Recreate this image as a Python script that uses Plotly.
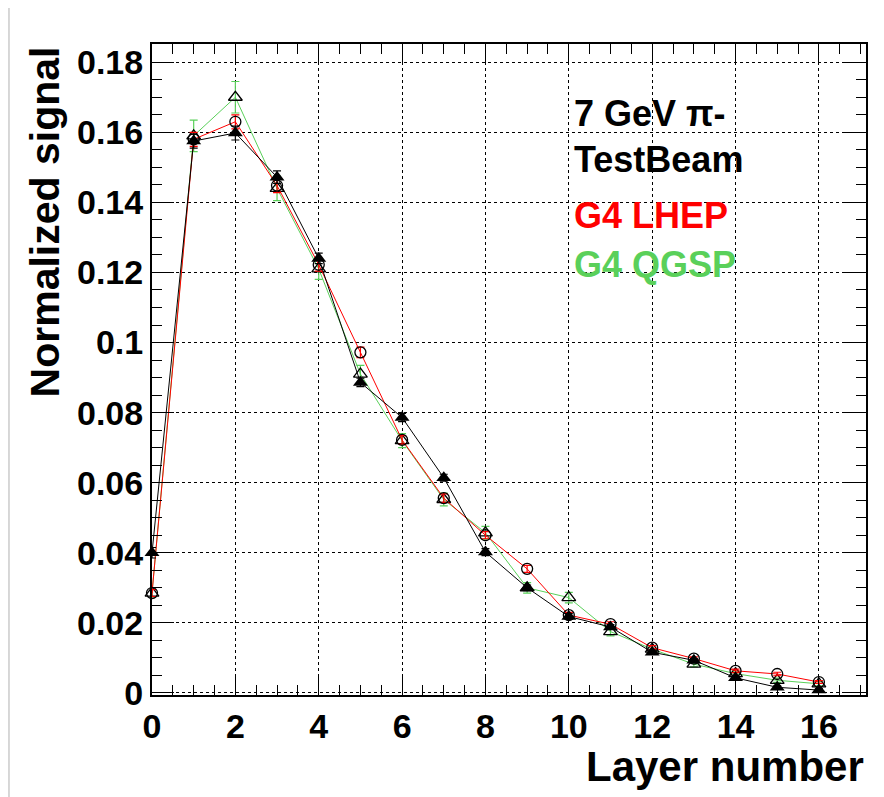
import plotly.graph_objects as go

layers = list(range(17))

testbeam = [0.0400, 0.1575, 0.1598, 0.1472, 0.1240, 0.0886, 0.0786, 0.0614, 0.0402,
            0.0300, 0.0218, 0.0188, 0.0116, 0.0093, 0.0043, 0.0016, 0.0008]
testbeam_err = [0.0015, 0.0020, 0.0020, 0.0018, 0.0015, 0.0012, 0.0012, 0.0010, 0.0010,
                0.0008, 0.0008, 0.0007, 0.0006, 0.0005, 0.0005, 0.0004, 0.0004]

lhep = [0.0285, 0.1580, 0.1630, 0.1448, 0.1222, 0.0972, 0.0722, 0.0556, 0.0450,
        0.0354, 0.0222, 0.0196, 0.0129, 0.0098, 0.0063, 0.0054, 0.0031]
lhep_err = [0.0010, 0.0020, 0.0020, 0.0020, 0.0018, 0.0015, 0.0012, 0.0012, 0.0010,
            0.0010, 0.0008, 0.0007, 0.0006, 0.0005, 0.0005, 0.0005, 0.0004]

qgsp = [0.0285, 0.1590, 0.1700, 0.1440, 0.1210, 0.0910, 0.0720, 0.0552, 0.0457,
        0.0300, 0.0272, 0.0175, 0.0125, 0.0082, 0.0055, 0.0036, 0.0026]
qgsp_err = [0.0012, 0.0045, 0.0045, 0.0035, 0.0030, 0.0025, 0.0020, 0.0018, 0.0018,
            0.0015, 0.0015, 0.0012, 0.0010, 0.0008, 0.0007, 0.0006, 0.0006]

x_ticks = [0, 2, 4, 6, 8, 10, 12, 14, 16]
y_ticks = [0, 0.02, 0.04, 0.06, 0.08, 0.1, 0.12, 0.14, 0.16, 0.18]
y_tick_text = ["0", "0.02", "0.04", "0.06", "0.08", "0.1", "0.12", "0.14", "0.16", "0.18"]

GREEN = "#5ad05a"
RED = "#ff0000"

fig = go.Figure()

fig.add_trace(go.Scatter(
    x=layers, y=qgsp, mode="lines+markers", name="G4 QGSP", cliponaxis=False,
    line=dict(color=GREEN, width=1),
    marker=dict(symbol="triangle-up-open", size=12, color="black",
                line=dict(width=1.3, color="black")),
    error_y=dict(type="data", array=qgsp_err, color=GREEN, thickness=1.2, width=4),
))
fig.add_trace(go.Scatter(
    x=layers, y=lhep, mode="lines+markers", name="G4 LHEP", cliponaxis=False,
    line=dict(color=RED, width=1),
    marker=dict(symbol="circle-open", size=11, color="black",
                line=dict(width=1.3, color="black")),
    error_y=dict(type="data", array=lhep_err, color=RED, thickness=1.2, width=4),
))
fig.add_trace(go.Scatter(
    x=layers, y=testbeam, mode="lines+markers", name="TestBeam", cliponaxis=False,
    line=dict(color="black", width=1),
    marker=dict(symbol="triangle-up", size=13, color="black",
                line=dict(width=0, color="black")),
    error_y=dict(type="data", array=testbeam_err, color="black", thickness=1.2, width=4),
))

font_family = "Liberation Sans, Arial, sans-serif"

fig.update_layout(
    width=884, height=797,
    margin=dict(l=144, r=26, t=36, b=110, autoexpand=False),
    paper_bgcolor="#d6d6d6",
    plot_bgcolor="white",
    showlegend=False,
    shapes=[dict(type="rect", xref="paper", yref="paper",
                 x0=-0.199, x1=1.0168, y0=-0.4, y1=1.2,
                 fillcolor="white", line=dict(width=0), layer="below")],
    annotations=[
        dict(text="7 GeV π-", xref="paper", yref="paper", x=0.588, y=0.894,
             xanchor="left", yanchor="middle", showarrow=False,
             font=dict(family=font_family, size=36, color="black", weight="bold")),
        dict(text="TestBeam", xref="paper", yref="paper", x=0.588, y=0.822,
             xanchor="left", yanchor="middle", showarrow=False,
             font=dict(family=font_family, size=36, color="black", weight="bold")),
        dict(text="G4 LHEP", xref="paper", yref="paper", x=0.588, y=0.737,
             xanchor="left", yanchor="middle", showarrow=False,
             font=dict(family=font_family, size=36, color=RED, weight="bold")),
        dict(text="G4 QGSP", xref="paper", yref="paper", x=0.588, y=0.661,
             xanchor="left", yanchor="middle", showarrow=False,
             font=dict(family=font_family, size=36, color=GREEN, weight="bold")),
        dict(text="Layer number", xref="paper", yref="paper", x=0.9996, y=-0.11,
             xanchor="right", yanchor="middle", showarrow=False,
             font=dict(family=font_family, size=42, color="black", weight="bold")),
        dict(text="Normalized signal", xref="paper", yref="paper", x=-0.15, y=1.0,
             xanchor="center", yanchor="top", textangle=-90, showarrow=False,
             font=dict(family=font_family, size=41, color="black", weight="bold")),
    ],
)

fig.update_xaxes(
    range=[0, 17.13], automargin=False,
    tickvals=x_ticks, ticktext=[str(v) for v in x_ticks],
    ticks="inside", ticklen=20, tickwidth=1.2, tickcolor="black",
    minor=dict(dtick=0.5, ticks="inside", ticklen=10, tickwidth=1, tickcolor="black"),
    showline=True, linecolor="black", linewidth=2, mirror="allticks",
    showgrid=True, gridcolor="black", gridwidth=1, griddash="dot",
    zeroline=False,
    tickfont=dict(family=font_family, size=34, color="black", weight="bold"),
)
fig.update_yaxes(
    range=[-0.0006, 0.1852], automargin=False,
    tickvals=y_ticks, ticktext=y_tick_text,
    ticks="inside", ticklen=22, tickwidth=1.2, tickcolor="black",
    minor=dict(dtick=0.005, ticks="inside", ticklen=10, tickwidth=1, tickcolor="black"),
    showline=True, linecolor="black", linewidth=2, mirror="allticks",
    showgrid=True, gridcolor="black", gridwidth=1, griddash="dot",
    zeroline=False,
    tickfont=dict(family=font_family, size=34, color="black", weight="bold"),
)

fig.write_html("out.html")
